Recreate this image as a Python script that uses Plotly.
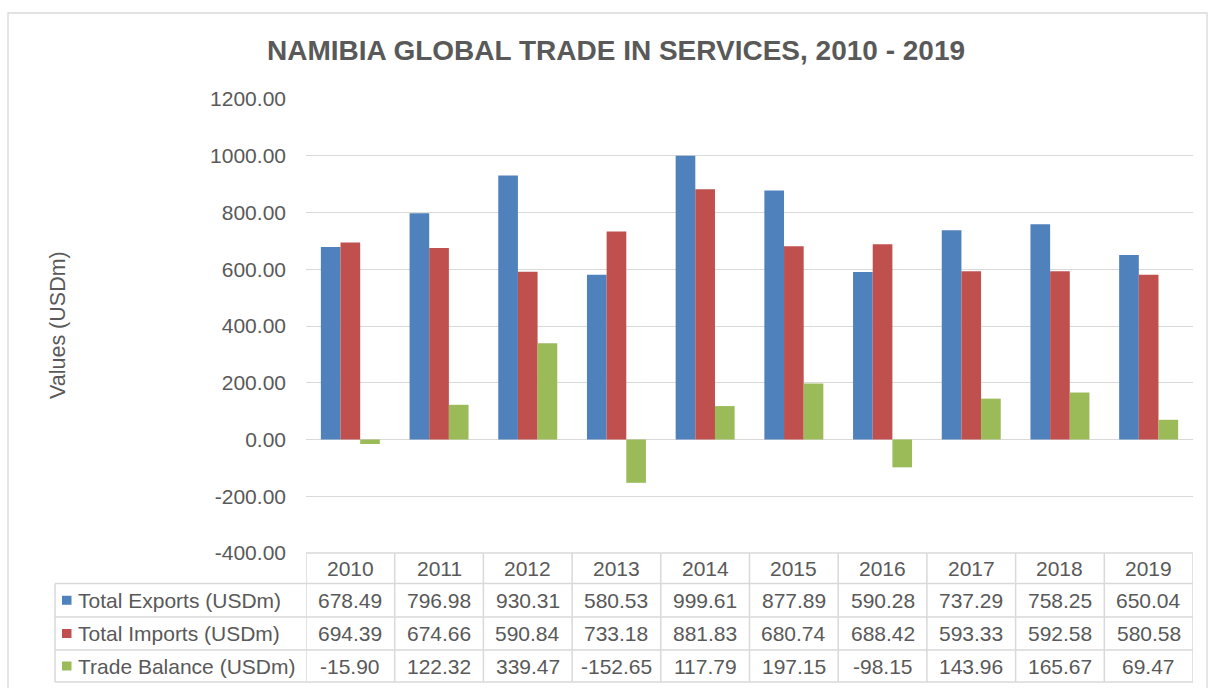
import plotly.graph_objects as go

years = ["2010", "2011", "2012", "2013", "2014", "2015", "2016", "2017", "2018", "2019"]
exports = [678.49, 796.98, 930.31, 580.53, 999.61, 877.89, 590.28, 737.29, 758.25, 650.04]
imports = [694.39, 674.66, 590.84, 733.18, 881.83, 680.74, 688.42, 593.33, 592.58, 580.58]
balance = [-15.90, 122.32, 339.47, -152.65, 117.79, 197.15, -98.15, 143.96, 165.67, 69.47]
series_names = ["Total Exports (USDm)", "Total Imports (USDm)", "Trade Balance (USDm)"]
series_values = [exports, imports, balance]
series_colors = ["#4F81BD", "#C0504D", "#9BBB59"]
ytick_values = [-400, -200, 0, 200, 400, 600, 800, 1000, 1200]
ytick_labels = [f"{v:.2f}" for v in ytick_values]

W, H = 1208, 688
L, R, T, B = 306, 15, 99, 135
PW, PH = W - L - R, H - T - B
TXT = "#595959"
GRID = "#D9D9D9"
FONT = "Liberation Sans, Arial, sans-serif"
FS = 21

def px(xp):
    return (xp - L) / PW

def py(yp):
    return (H - B - yp) / PH

fig = go.Figure()
for name, vals, col in zip(series_names, series_values, series_colors):
    fig.add_trace(go.Bar(x=years, y=vals, name=name, marker=dict(color=col, line=dict(width=0))))

shapes = []
annotations = []

# outer chart border
shapes.append(dict(type="rect", xref="paper", yref="paper", x0=px(8), x1=px(1207), y0=py(700), y1=py(13),
                   line=dict(color=GRID, width=1.3), layer="below"))

# data table geometry (pixel rows)
row_lines = [553, 583.5, 617, 650, 682]
left_edge = 55
shapes.append(dict(type="line", xref="paper", yref="paper", x0=0, x1=1, y0=py(row_lines[0]), y1=py(row_lines[0]),
                   line=dict(color=GRID, width=1.5)))
for yl in row_lines[1:]:
    shapes.append(dict(type="line", xref="paper", yref="paper", x0=px(left_edge), x1=1, y0=py(yl), y1=py(yl),
                       line=dict(color=GRID, width=1.5)))
shapes.append(dict(type="line", xref="paper", yref="paper", x0=px(left_edge), x1=px(left_edge),
                   y0=py(row_lines[1]), y1=py(row_lines[-1]), line=dict(color=GRID, width=1.5)))
for i in range(len(years) + 1):
    shapes.append(dict(type="line", xref="x", yref="paper", x0=i - 0.5, x1=i - 0.5,
                       y0=py(row_lines[0]), y1=py(row_lines[-1]), line=dict(color=GRID, width=1.5)))

hc = (row_lines[0] + row_lines[1]) / 2
for i, yr in enumerate(years):
    annotations.append(dict(x=i, y=py(hc), xref="x", yref="paper", text=yr, showarrow=False,
                            font=dict(size=FS, color=TXT, family=FONT), xanchor="center", yanchor="middle"))
for r, (name, vals, col) in enumerate(zip(series_names, series_values, series_colors)):
    yc = (row_lines[r + 1] + row_lines[r + 2]) / 2
    shapes.append(dict(type="rect", xref="paper", yref="paper", x0=px(62), x1=px(71.5),
                       y0=py(yc + 4.5), y1=py(yc - 4.5), fillcolor=col, line=dict(width=0)))
    annotations.append(dict(x=px(76), y=py(yc), xref="paper", yref="paper", text=name, showarrow=False,
                            font=dict(size=FS, color=TXT, family=FONT), xanchor="left", yanchor="middle"))
    for i, v in enumerate(vals):
        annotations.append(dict(x=i, y=py(yc), xref="x", yref="paper", text=f"{v:.2f}", showarrow=False,
                                font=dict(size=FS, color=TXT, family=FONT), xanchor="center", yanchor="middle"))

annotations.append(dict(x=px(58), y=py(325), xref="paper", yref="paper", text="Values (USDm)", textangle=-90,
                        showarrow=False, font=dict(size=21.5, color=TXT, family=FONT),
                        xanchor="center", yanchor="middle"))

fig.update_layout(
    width=W, height=H,
    margin=dict(l=L, r=R, t=T, b=B, autoexpand=False),
    paper_bgcolor="white", plot_bgcolor="white",
    barmode="group", bargap=0.335, bargroupgap=0,
    showlegend=False,
    title=dict(text="<b>NAMIBIA GLOBAL TRADE IN SERVICES, 2010 - 2019</b>", x=616 / W, xanchor="center",
               y=1 - 50 / H, yanchor="middle", font=dict(size=28, color=TXT, family=FONT)),
    xaxis=dict(type="category", range=[-0.5, 9.5], showticklabels=False, showgrid=False, zeroline=False,
               showline=False, fixedrange=True),
    yaxis=dict(range=[-400, 1200], tickvals=ytick_values, ticktext=ytick_labels, gridcolor=GRID, gridwidth=1.3,
               zeroline=False, showline=False, ticks="", ticklabelstandoff=19,
               tickfont=dict(size=FS, color=TXT, family=FONT)),
    shapes=shapes,
    annotations=annotations,
    font=dict(family=FONT, color=TXT),
)

fig.write_html("out.html", config={"displayModeBar": False},
               post_script="document.body.style.margin='0';document.body.style.overflow='hidden';")
